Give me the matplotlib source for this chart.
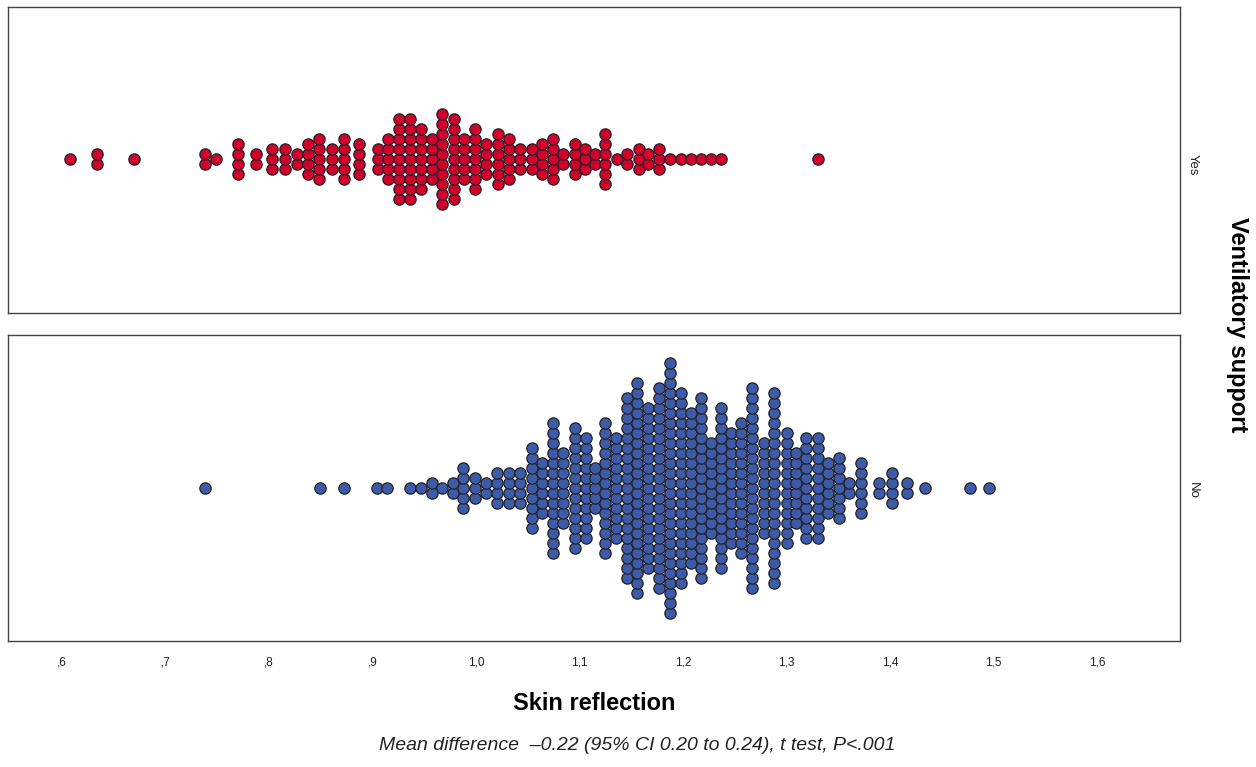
import matplotlib
matplotlib.use("Agg")
import matplotlib.pyplot as plt
import numpy as np

plt.rcParams['font.family'] = ['Liberation Sans', 'DejaVu Sans']

# Dot-plot columns: bin centre value and number of dots in the column
yes_values = [0.608, 0.634, 0.670, 0.738, 0.749, 0.770, 0.788, 0.803, 0.816, 0.827,
              0.838, 0.848, 0.861, 0.873, 0.887, 0.905, 0.915, 0.926, 0.936, 0.947,
              0.958, 0.967, 0.979, 0.988, 0.999, 1.010, 1.021, 1.032, 1.043, 1.054,
              1.064, 1.074, 1.084, 1.096, 1.105, 1.115, 1.125, 1.136, 1.146, 1.157,
              1.166, 1.177, 1.187, 1.198, 1.208, 1.217, 1.227, 1.237, 1.330]
yes_counts = [1, 2, 1, 2, 1, 4, 2, 3, 3, 2,
              4, 5, 3, 5, 4, 3, 5, 9, 9, 7,
              5, 10, 9, 5, 7, 4, 6, 5, 3, 3,
              4, 5, 2, 4, 3, 2, 6, 1, 2, 3,
              2, 3, 1, 1, 1, 1, 1, 1, 1]

no_values = [0.738, 0.849, 0.873, 0.904, 0.914, 0.936, 0.947, 0.958, 0.967, 0.978,
             0.987, 0.999, 1.010, 1.020, 1.032, 1.043, 1.054, 1.064, 1.074, 1.084,
             1.096, 1.106, 1.115, 1.125, 1.135, 1.146, 1.156, 1.166, 1.177, 1.187,
             1.198, 1.208, 1.217, 1.227, 1.237, 1.246, 1.256, 1.267, 1.278, 1.288,
             1.300, 1.309, 1.319, 1.330, 1.340, 1.351, 1.360, 1.372, 1.389, 1.402,
             1.416, 1.434, 1.477, 1.496]
no_counts = [1, 1, 1, 1, 1, 1, 1, 2, 1, 2,
             5, 3, 2, 4, 4, 4, 9, 6, 14, 8,
             13, 11, 5, 14, 11, 19, 22, 17, 21, 26,
             20, 16, 19, 10, 17, 12, 14, 21, 10, 20,
             12, 8, 11, 11, 6, 7, 2, 6, 2, 4,
             2, 1, 1, 1]

tick_values = [0.6, 0.7, 0.8, 0.9, 1.0, 1.1, 1.2, 1.3, 1.4, 1.5, 1.6]
tick_labels = [",6", ",7", ",8", ",9", "1,0", "1,1", "1,2", "1,3", "1,4", "1,5", "1,6"]
group_labels = ["Yes", "No"]
x_label = "Skin reflection"
y_label = "Ventilatory support"
note = "Mean difference  \u20130.22 (95% CI 0.20 to 0.24), t test, P<.001"

W, H = 1256, 767
fig = plt.figure(figsize=(W / 100, H / 100), dpi=100)

def ax_rect(x0, y0, x1, y1):
    return [x0 / W, 1 - y1 / H, (x1 - x0) / W, (y1 - y0) / H]

ax_top = fig.add_axes(ax_rect(8, 7, 1180, 313))
ax_bot = fig.add_axes(ax_rect(8, 335, 1180, 641))

def stack(values, counts):
    xs, ys = [], []
    for v, n in zip(values, counts):
        for k in range(n):
            xs.append(v)
            ys.append(k - (n - 1) / 2.0)
    return np.array(xs), np.array(ys)

xlim = (0.548, 1.680)
for ax, vals, cnts, col, ylim in [
    (ax_top, yes_values, yes_counts, '#D1002C', (-15.4, 15.2)),
    (ax_bot, no_values, no_counts, '#3E5BAA', (-15.3, 15.3)),
]:
    xs, ys = stack(vals, cnts)
    ax.scatter(xs, ys, s=66, facecolor=col, edgecolor='#222222', linewidth=0.9, zorder=3)
    ax.set_xlim(*xlim)
    ax.set_ylim(*ylim)
    ax.set_yticks([])
    for sp in ax.spines.values():
        sp.set_color('#444444')
        sp.set_linewidth(1.0)

ax_top.set_xticks([])
ax_bot.set_xticks(tick_values)
ax_bot.set_xticklabels(tick_labels, fontsize=8.5, color='#222222')
ax_bot.tick_params(axis='x', length=0, pad=11)

fig.text(594 / W, 1 - 704 / H, x_label, ha='center', va='center', fontsize=17, fontweight='bold')
fig.text(637 / W, 1 - 746 / H, note, ha='center', va='center', fontsize=14, style='italic', color='#222222')
fig.text(1193 / W, 1 - 165 / H, group_labels[0], ha='center', va='center', rotation=270, fontsize=9.5, color='#222222')
fig.text(1193 / W, 1 - 490 / H, group_labels[1], ha='center', va='center', rotation=270, fontsize=9.5, color='#222222')
fig.text(1238 / W, 1 - 325 / H, y_label, ha='center', va='center', rotation=270, fontsize=17, fontweight='bold')

fig.savefig("out.png", dpi=100)
